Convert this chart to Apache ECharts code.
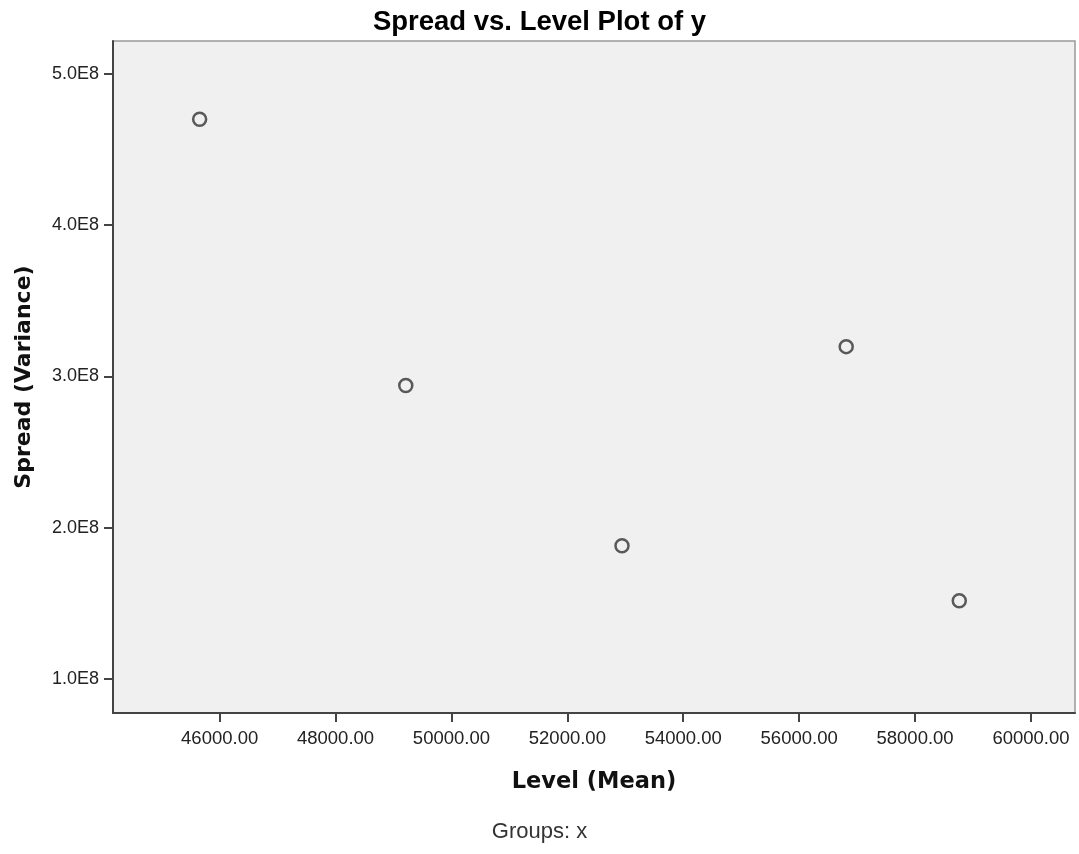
<!DOCTYPE html>
<html>
<head>
<meta charset="utf-8">
<script src="https://cdn.jsdelivr.net/npm/echarts@6/dist/echarts.min.js"></script>
<style>
  html, body { margin: 0; padding: 0; background: #fff; }
  #main { width: 1079px; height: 854px; }
</style>
</head>
<body>
<div id="main"></div>
<script>
// values
const levelMean = [45655, 49212, 52943, 56812, 58763];
const spreadVariance = [4.698e8, 2.939e8, 1.880e8, 3.196e8, 1.517e8];
const xTicks = [46000, 48000, 50000, 52000, 54000, 56000, 58000, 60000];
const yTicks = [1e8, 2e8, 3e8, 4e8, 5e8];

var myChart = echarts.init(document.getElementById("main"));

var points = levelMean.map((x, i) => [x, spreadVariance[i]]);

var option = {
  animation: false,
  backgroundColor: "#fff",
  title: [
    {
      text: "Spread vs. Level Plot of y",
      left: "center",
      top: 3,
      textStyle: { fontFamily: "Liberation Sans", fontSize: 27.5, fontWeight: "bold", color: "#000" }
    },
    {
      text: "Groups: x",
      left: "center",
      top: 816,
      textStyle: { fontFamily: "Liberation Sans", fontSize: 22, fontWeight: "normal", color: "#333" }
    }
  ],
  grid: {
    left: 113,
    right: 4,
    top: 41,
    bottom: 141,
    show: true,
    backgroundColor: "#f0f0f0",
    borderColor: "#999",
    borderWidth: 1.5
  },
  xAxis: {
    type: "value",
    min: 44160,
    max: 60760,
    name: "Level (Mean)",
    nameLocation: "middle",
    nameGap: 58,
    nameTextStyle: { fontFamily: "DejaVu Sans", fontSize: 22.5, fontWeight: "bold", color: "#111" },
    axisLine: { show: true, lineStyle: { color: "#444", width: 2 } },
    axisTick: { show: true, length: 9, lineStyle: { color: "#444", width: 2 }, customValues: xTicks },
    axisLabel: {
      customValues: xTicks,
      margin: 16,
      fontFamily: "Liberation Sans",
      fontSize: 18.5,
      color: "#222",
      formatter: v => v.toFixed(2)
    },
    splitLine: { show: false }
  },
  yAxis: {
    type: "value",
    min: 77500000,
    max: 521560000,
    name: "Spread (Variance)",
    nameLocation: "middle",
    nameGap: 78,
    nameRotate: 90,
    nameTextStyle: { fontFamily: "DejaVu Sans", fontSize: 22, fontWeight: "bold", color: "#111" },
    axisLine: { show: true, lineStyle: { color: "#444", width: 2 } },
    axisTick: { show: true, length: 9, lineStyle: { color: "#444", width: 2 }, customValues: yTicks },
    axisLabel: {
      customValues: yTicks,
      margin: 14,
      fontFamily: "Liberation Sans",
      fontSize: 18,
      color: "#222",
      formatter: v => (v / 1e8).toFixed(1) + "E8"
    },
    splitLine: { show: false }
  },
  series: [
    {
      type: "scatter",
      data: points,
      symbol: "circle",
      symbolSize: 13,
      itemStyle: { color: "#f0f0f0", borderColor: "#333", borderWidth: 2.5 }
    }
  ]
};

myChart.setOption(option);
</script>
</body>
</html>
